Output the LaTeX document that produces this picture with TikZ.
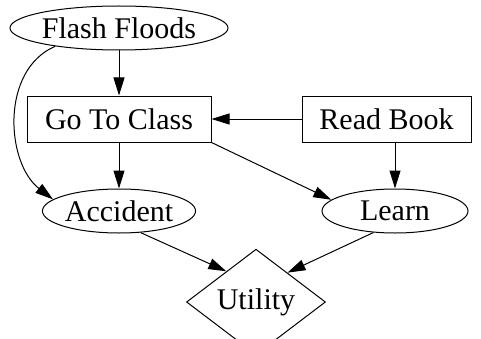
\documentclass[tikz,border=0pt]{standalone}
\usepackage{fontspec}
\setmainfont{Liberation Serif}
\usetikzlibrary{shapes.geometric,arrows.meta}
\tikzset{
  base/.style={draw, line width=1pt, inner sep=0pt, font=\fontsize{30}{34}\selectfont},
  chance/.style={base, ellipse, minimum height=44pt},
  decision/.style={base, rectangle, minimum height=46pt},
  value/.style={base, diamond, minimum width=139pt, minimum height=68pt},
  edge/.style={line width=1pt, -{Triangle[length=18pt,width=11pt]}}
}
\begin{document}
\begin{tikzpicture}[x=1pt,y=1pt]
  \useasboundingbox (0,0) rectangle (481,338);
  % nodes
  \node[chance, minimum width=214pt] (ff) at (119,310) {Flash Floods};
  \node[decision, minimum width=184pt] (gtc) at (119,219) {Go To Class};
  \node[decision, minimum width=169pt] (rb) at (386.5,219) {Read Book};
  \node[chance, minimum width=146pt] (acc) at (119,127) {Accident};
  \node[chance, minimum width=146pt] (learn) at (395,127) {Learn};
  \node[value] (util) at (256,36) {\raisebox{-3pt}{Utility}};
  % connectors
  \draw[edge] (ff) -- (gtc);
  \draw[edge] (rb.west) -- (gtc.east);
  \draw[edge] (gtc) -- (acc);
  \draw[edge] (gtc.south east) -- (learn.170);
  \draw[edge] (learn.north |- rb.south) -- (learn.north);
  \draw[edge] (ff.196) .. controls (0,268) and (6,175) .. (acc.170);
  \draw[edge] (acc.-45) -- (util.134);
  \draw[edge] (learn.225) -- (util.43);
\end{tikzpicture}
\end{document}
